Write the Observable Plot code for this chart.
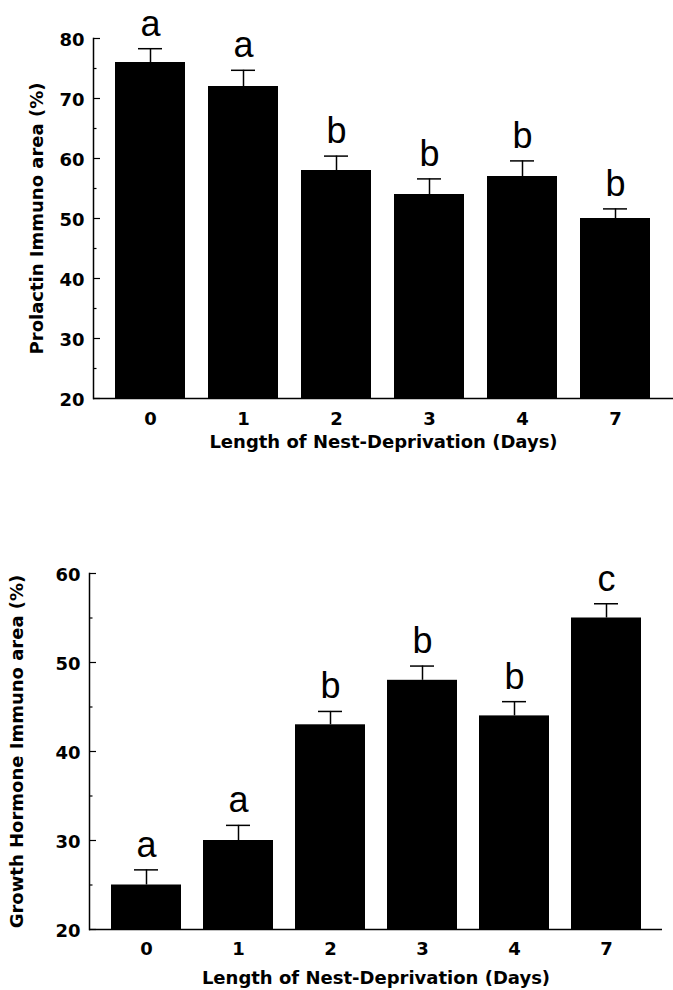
<!DOCTYPE html>
<html><head><meta charset="utf-8">
<script src="https://cdn.jsdelivr.net/npm/d3@7"></script>
<script src="https://cdn.jsdelivr.net/npm/@observablehq/plot@0.6"></script>
<style>body{margin:0;background:#fff} svg{display:block}</style>
</head><body><div id="chart"></div>
<script>
const days = ["0", "1", "2", "3", "4", "7"];
const prolactinMean = [76, 72, 58, 54, 57, 50];
const prolactinSE = [2.3, 2.7, 2.4, 2.6, 2.6, 1.6];
const prolactinLetters = ["a", "a", "b", "b", "b", "b"];
const prolactinTicks = [20, 30, 40, 50, 60, 70, 80];
const prolactinMinorTicks = [25, 35, 45, 55, 65, 75];
const ghMean = [25, 30, 43, 48, 44, 55];
const ghSE = [1.7, 1.7, 1.5, 1.6, 1.6, 1.6];
const ghLetters = ["a", "a", "b", "b", "b", "c"];
const ghTicks = [20, 30, 40, 50, 60];
const ghMinorTicks = [25, 35, 45, 55];
const xTitle = "Length of Nest-Deprivation (Days)";
const prolactinTitle = "Prolactin Immuno area (%)";
const ghTitle = "Growth Hormone Immuno area (%)";

function panel(o) {
  const data = days.map((d, i) => ({day: d, mean: o.means[i], se: o.ses[i], letter: o.letters[i]}));
  const lo = o.ticks[0], hi = o.ticks[o.ticks.length - 1];
  return Plot.plot({
    width: 673,
    height: o.height,
    marginTop: o.marginTop,
    marginBottom: o.marginBottom,
    marginLeft: o.marginLeft,
    marginRight: o.marginRight,
    style: {fontFamily: "DejaVu Sans", fontSize: "18px", fontWeight: "bold", color: "black", background: "white"},
    x: {type: "band", domain: days, paddingInner: o.pi, paddingOuter: o.po},
    y: {domain: [lo, hi]},
    marks: [
      Plot.barY(data, {x: "day", y1: lo, y2: "mean", fill: "black"}),
      Plot.ruleX(data, {x: "day", y1: "mean", y2: d => d.mean + d.se, strokeWidth: 1.5}),
      Plot.tickY(data, {x: "day", y: d => d.mean + d.se, insetLeft: 23, insetRight: 23, strokeWidth: 1.5}),
      Plot.text(data, {x: "day", y: d => d.mean + d.se, text: "letter", dy: -13, lineAnchor: "bottom",
        fontSize: 36, fontFamily: "Liberation Sans", fontWeight: "normal"}),
      Plot.ruleY([lo], {strokeWidth: 1.5}),
      Plot.frame({anchor: "left", strokeWidth: 1.5}),
      Plot.axisY(o.ticks, {tickSize: 0, tickPadding: 9, dy: 2, label: null}),
      Plot.axisY(o.ticks, {tickSize: -7, fill: "none", label: null, strokeWidth: 1.2}),
      Plot.axisY(o.minor, {tickSize: -3.5, fill: "none", label: null, strokeWidth: 1.2}),
      Plot.axisX({tickSize: 0, tickPadding: o.tickPadX, label: null}),
      Plot.text([o.yTitle], {frameAnchor: "left", rotate: -90, dx: -o.yTitleOffset, lineAnchor: "top",
        textAnchor: "middle", text: d => d}),
      Plot.text([xTitle], {frameAnchor: "bottom", dy: o.xTitleOffset, lineAnchor: "bottom",
        textAnchor: "middle", text: d => d})
    ]
  });
}

const chart = document.getElementById("chart");
chart.append(panel({
  means: prolactinMean, ses: prolactinSE, letters: prolactinLetters,
  ticks: prolactinTicks, minor: prolactinMinorTicks, yTitle: prolactinTitle,
  height: 470, marginTop: 38, marginBottom: 72, marginLeft: 93, marginRight: 0,
  pi: 0.245, po: 0.21, tickPadX: 14, yTitleOffset: 63, xTitleOffset: 49
}));
chart.append(panel({
  means: ghMean, ses: ghSE, letters: ghLetters,
  ticks: ghTicks, minor: ghMinorTicks, yTitle: ghTitle,
  height: 520, marginTop: 103, marginBottom: 61, marginLeft: 89, marginRight: 11,
  pi: 0.243, po: 0.22, tickPadX: 13, yTitleOffset: 79, xTitleOffset: 54
}));
</script>
</body></html>
